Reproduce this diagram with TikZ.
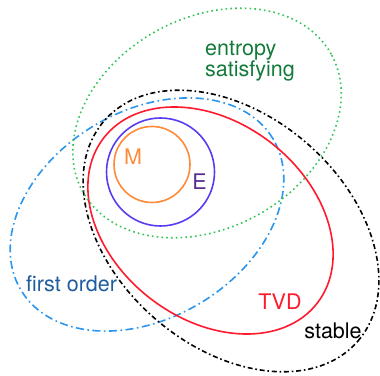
\documentclass[tikz,border=0pt]{standalone}
\usepackage{fontspec}
\setmainfont{TeX Gyre Heros}
\definecolor{gline}{HTML}{33C455}
\definecolor{gtext}{HTML}{137A3C}
\definecolor{bline}{HTML}{2B96EE}
\definecolor{btext}{HTML}{1E5C9E}
\definecolor{rline}{HTML}{FF1A2E}
\definecolor{pline}{HTML}{5A3CF0}
\definecolor{ptext}{HTML}{5A2D8C}
\definecolor{oline}{HTML}{FF8A3A}
\tikzset{
  curve/.style={line width=1.6pt},
  lbl/.style={inner sep=0pt, font=\fontsize{21.5}{24}\selectfont},
}
\begin{document}
\begin{tikzpicture}[x=1pt,y=1pt]
\useasboundingbox (0,0) rectangle (380,375);
% first order (blue dash-dot)
\draw[curve, bline, dash pattern=on 8pt off 3.5pt on 1.6pt off 3.5pt, rotate around={31:(147,160.5)}] (147,160.5) ellipse (147pt and 103.4pt);
% stable (black dash-dot)
\draw[curve, black, dash pattern=on 5pt off 2.8pt on 1.6pt off 2.8pt, rotate around={-41:(231,144)}] (231,144) ellipse (168pt and 116pt);
% TVD (red)
\draw[curve, rline, rotate around={-37.7:(210.5,154.5)}] (210.5,154.5) ellipse (135pt and 98.5pt);
% entropy satisfying (green dotted)
\draw[curve, gline, dash pattern=on 1.6pt off 3.2pt, rotate around={29:(207,252)}] (207,252) ellipse (142pt and 105pt);
% E
\draw[curve, pline] (160.5,203) circle (54pt);
% M
\draw[curve, oline] (152,210.5) circle (38pt);
% labels
\node[lbl, gtext, anchor=base west] (ent1) at (205,319) {entropy};
\node[lbl, gtext, anchor=base west] (ent2) at (205,298) {satisfying};
\node[lbl, oline, anchor=base] (lM) at (133,210) {M};
\node[lbl, ptext, anchor=base] (lE) at (199.5,185) {E};
\node[lbl, btext, anchor=base west] (lfo) at (26,84) {first order};
\node[lbl, rline, anchor=base] (lTVD) at (280,66) {TVD};
\node[lbl, black, anchor=base] (lst) at (333,37) {stable};
\end{tikzpicture}
\end{document}
